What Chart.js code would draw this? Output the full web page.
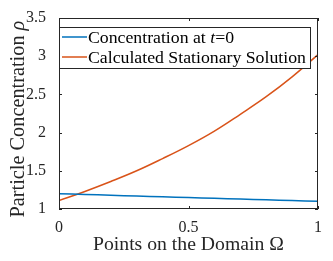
<!DOCTYPE html>
<html>
<head>
<meta charset="utf-8">
<script src="https://cdn.jsdelivr.net/npm/chart.js@4"></script>
<style>
  html, body { margin: 0; padding: 0; background: #fff; }
  #wrap { width: 333px; height: 261px; }
</style>
</head>
<body>
<div id="wrap"><canvas id="chart" width="333" height="261"></canvas></div>
<script>
// values
const xPoints       = [0, 0.1, 0.2, 0.3, 0.4, 0.5, 0.6, 0.7, 0.8, 0.9, 1]
const initialConc   = [1.20, 1.19, 1.18, 1.17, 1.16, 1.15, 1.14, 1.13, 1.12, 1.11, 1.10]
const stationarySol = [1.11, 1.23, 1.36, 1.50, 1.66, 1.83, 2.02, 2.24, 2.47, 2.73, 3.02]
const xTicks = [0, 0.5, 1]
const yTicks = [1, 1.5, 2, 2.5, 3, 3.5]

const BLUE = '#0072BD'
const ORANGE = '#D95319'
const AXIS = '#262626'
const SERIF = '"Liberation Serif", "DejaVu Serif", serif'

// mixed upright/italic text, sized so it fills a target width
function fitSize(ctx, parts, width) {
  let w = 0
  parts.forEach(([t, it]) => {
    ctx.font = (it ? 'italic ' : '') + '100px ' + SERIF
    w += ctx.measureText(t).width
  })
  return 100 * width / w
}
function drawRich(ctx, parts, size, x, y) {
  parts.forEach(([t, it]) => {
    ctx.font = (it ? 'italic ' : '') + size + 'px ' + SERIF
    ctx.fillText(t, x, y)
    x += ctx.measureText(t).width
  })
}

const matlabBox = {
  id: 'matlabBox',
  afterDraw(chart) {
    const { ctx, chartArea: a, scales } = chart
    ctx.save()
    ctx.strokeStyle = AXIS
    ctx.lineWidth = 1
    ctx.strokeRect(a.left + 0.5, a.top + 0.5, a.right - a.left - 1, a.bottom - a.top - 1)

    // inward ticks on all four sides
    const tl = 3
    ctx.beginPath()
    xTicks.forEach(v => {
      const px = Math.round(scales.x.getPixelForValue(v)) + 0.5
      ctx.moveTo(px, a.bottom); ctx.lineTo(px, a.bottom - tl)
      ctx.moveTo(px, a.top);    ctx.lineTo(px, a.top + tl)
    })
    yTicks.forEach(v => {
      const py = Math.round(scales.y.getPixelForValue(v)) + 0.5
      ctx.moveTo(a.left, py);  ctx.lineTo(a.left + tl, py)
      ctx.moveTo(a.right, py); ctx.lineTo(a.right - tl, py)
    })
    ctx.stroke()

    // axis titles
    ctx.fillStyle = AXIS
    ctx.textBaseline = 'middle'
    const xt = [['Points on the Domain \u03A9', false]]
    const xs = fitSize(ctx, xt, 191)
    drawRich(ctx, xt, xs, 93, 245)

    const yt = [['Particle Concentration ', false], ['\u03C1', true]]
    const ys = fitSize(ctx, yt, 197)
    ctx.save()
    ctx.translate(19, 119)
    ctx.rotate(-Math.PI / 2)
    drawRich(ctx, yt, ys, -197 / 2, 0)
    ctx.restore()

    // legend box
    const lx = a.left, ly = 27, lw = 251, lh = 41
    ctx.fillStyle = '#fff'
    ctx.fillRect(lx, ly, lw, lh)
    ctx.strokeStyle = AXIS
    ctx.strokeRect(lx + 0.5, ly + 0.5, lw, lh)
    const lab2 = [['Calculated Stationary Solution', false]]
    const ls = fitSize(ctx, lab2, 218)
    const rows = [
      [BLUE,   [['Concentration at ', false], ['t', true], ['=0', false]], 37],
      [ORANGE, lab2, 57]
    ]
    rows.forEach(([col, parts, ry]) => {
      ctx.strokeStyle = col
      ctx.lineWidth = 1.5
      ctx.beginPath()
      ctx.moveTo(lx + 3, ry); ctx.lineTo(lx + 28, ry)
      ctx.stroke()
      ctx.fillStyle = '#000'
      drawRich(ctx, parts, ls, lx + 29, ry + 1)
    })
    ctx.restore()
  }
}

new Chart(document.getElementById('chart'), {
  type: 'line',
  data: {
    datasets: [
      {
        label: 'Concentration at t=0',
        data: xPoints.map((x, i) => ({ x, y: initialConc[i] })),
        borderColor: BLUE,
        borderWidth: 1.5,
        pointRadius: 0,
        tension: 0.4
      },
      {
        label: 'Calculated Stationary Solution',
        data: xPoints.map((x, i) => ({ x, y: stationarySol[i] })),
        borderColor: ORANGE,
        borderWidth: 1.5,
        pointRadius: 0,
        tension: 0.4
      }
    ]
  },
  options: {
    responsive: false,
    animation: false,
    layout: { padding: { top: 18, right: 15, left: 0, bottom: 0 } },
    plugins: { legend: { display: false }, tooltip: { enabled: false } },
    scales: {
      x: {
        type: 'linear', min: 0, max: 1,
        afterFit: s => { s.height = 52 },
        afterBuildTicks: s => { s.ticks = xTicks.map(v => ({ value: v })) },
        grid: { display: false }, border: { display: false },
        ticks: {
          color: AXIS, padding: 1, maxRotation: 0,
          font: { family: SERIF, size: 16 },
          callback: v => String(v)
        }
      },
      y: {
        min: 1, max: 3.5,
        afterFit: s => { s.width = 59 },
        afterBuildTicks: s => { s.ticks = yTicks.map(v => ({ value: v })) },
        grid: { display: false }, border: { display: false },
        ticks: {
          color: AXIS, padding: 5,
          font: { family: SERIF, size: 16 },
          callback: v => String(v)
        }
      }
    }
  },
  plugins: [matlabBox]
})
</script>
</body>
</html>
